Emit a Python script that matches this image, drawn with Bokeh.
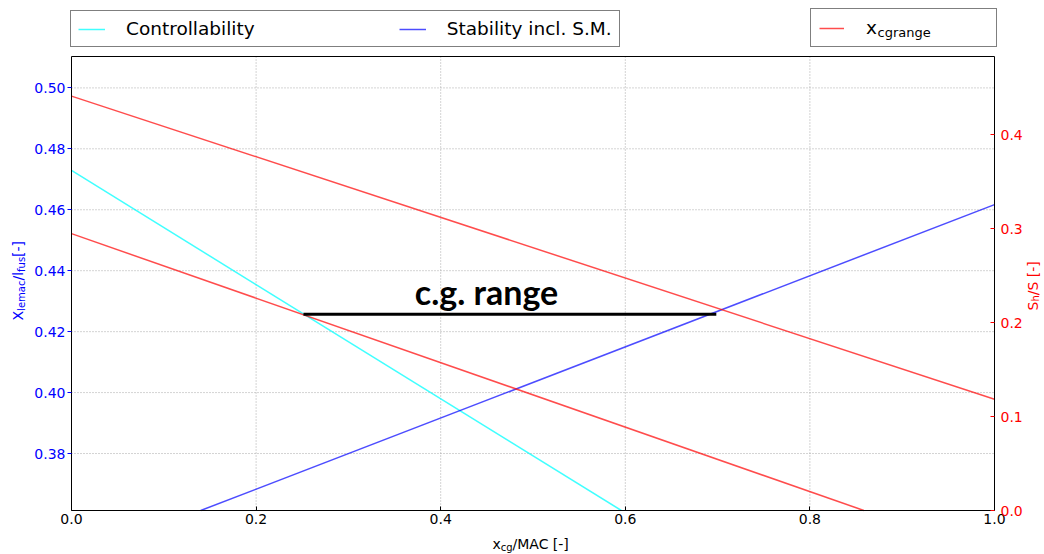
import math
from bokeh.plotting import figure
from bokeh.models import (Range1d, LinearAxis, FixedTicker, PrintfTickFormatter,
                          Legend, LegendItem, Label)
from bokeh.embed import file_html
from bokeh.resources import INLINE

# ---------------- data ----------------
x_ticks = [0.0, 0.2, 0.4, 0.6, 0.8, 1.0]
grid_x = [0.2, 0.4, 0.6, 0.8]
left_ticks = [0.38, 0.40, 0.42, 0.44, 0.46, 0.48, 0.50]
right_ticks = [0.0, 0.1, 0.2, 0.3, 0.4]

# x_cg/MAC  vs  X_lemac/l_fus
controllability_x = [0.0, 0.5957]
controllability_y = [0.4729, 0.3613]
stability_x = [0.140, 1.0]
stability_y = [0.3613, 0.4617]
# x_cg/MAC  vs  S_h/S
xcg_front_x = [0.0, 0.8585]
xcg_front_y = [0.2947, 0.0]
xcg_aft_x = [0.0, 1.0]
xcg_aft_y = [0.4411, 0.1184]
# c.g. range bar
cg_range_x = [0.2513, 0.6986]
cg_range_y = [0.4257, 0.4257]

# axis limits of the plot box
X0, X1 = 0.0, 1.0
Y0, Y1 = 0.3613, 0.5103
R0, R1 = 0.0, 0.4833

# page layout of the plot box (pixels)
W, H = 1044, 554
BL, BR, BT, BB = 71, 994, 56, 510

sx = (X1 - X0) / (BR - BL)
sy = (Y1 - Y0) / (BB - BT)
sr = (R1 - R0) / (BB - BT)

xr = Range1d(X0 - BL * sx, X1 + (W - BR) * sx)
yr = Range1d(Y0 - (H - BB) * sy, Y1 + BT * sy)
rr = Range1d(R0 - (H - BB) * sr, R1 + BT * sr)

def dx(px):
    return X0 + (px - BL) * sx

def dy(py):
    return Y1 - (py - BT) * sy

FONT = "DejaVu Sans"

p = figure(width=W, height=H, min_border=0, x_range=xr, y_range=yr,
           x_axis_location=None, y_axis_location=None,
           output_backend="svg", toolbar_location=None)
p.extra_y_ranges = {"right": rr}
p.background_fill_color = "white"
p.border_fill_color = "white"
p.outline_line_color = None
p.xgrid.visible = False
p.ygrid.visible = False

# dotted grid inside the plot box
GRID = dict(line_color="#a0a0a0", line_dash="1 2", line_width=1, line_alpha=0.9)
p.segment(x0=grid_x, y0=[Y0] * len(grid_x), x1=grid_x, y1=[Y1] * len(grid_x), **GRID)
p.segment(x0=[X0] * len(left_ticks), y0=left_ticks, x1=[X1] * len(left_ticks),
          y1=left_ticks, **GRID)

# bottom axis
xa = LinearAxis(ticker=FixedTicker(ticks=x_ticks), formatter=PrintfTickFormatter(format="%.1f"),
                fixed_location=Y0, bounds=(X0, X1))
xa.major_label_text_font = FONT
xa.major_label_text_font_size = "14px"
xa.major_label_text_color = "black"
xa.major_label_standoff = 3
xa.major_tick_in = 4
xa.major_tick_out = 0
xa.minor_tick_line_color = None
xa.axis_line_color = "black"
p.add_layout(xa, "below")

# top border
ta = LinearAxis(ticker=FixedTicker(ticks=[]), fixed_location=Y1, bounds=(X0, X1))
ta.major_label_text_font_size = "0px"
ta.major_tick_line_color = None
ta.minor_tick_line_color = None
ta.axis_line_color = "black"
p.add_layout(ta, "above")

# left axis
ya = LinearAxis(ticker=FixedTicker(ticks=left_ticks), formatter=PrintfTickFormatter(format="%.2f"),
                fixed_location=X0, bounds=(Y0, Y1))
ya.major_label_text_font = FONT
ya.major_label_text_font_size = "14px"
ya.major_label_text_color = "blue"
ya.major_label_standoff = 2
ya.major_tick_in = 0
ya.major_tick_out = 4
ya.major_tick_line_color = "blue"
ya.minor_tick_line_color = None
ya.axis_line_color = "black"
p.add_layout(ya, "left")

# right axis
ra = LinearAxis(y_range_name="right", ticker=FixedTicker(ticks=right_ticks),
                formatter=PrintfTickFormatter(format="%.1f"),
                fixed_location=X1, bounds=(R0, R1))
ra.major_label_text_font = FONT
ra.major_label_text_font_size = "14px"
ra.major_label_text_color = "red"
ra.major_label_standoff = 6
ra.major_tick_in = 4
ra.major_tick_out = 0
ra.major_tick_line_color = "red"
ra.minor_tick_line_color = None
ra.axis_line_color = "black"
p.add_layout(ra, "right")

# lines
r_c = p.line(controllability_x, controllability_y, line_color="cyan", line_alpha=0.75, line_width=1.5)
r_s = p.line(stability_x, stability_y, line_color="blue", line_alpha=0.7, line_width=1.5)
r_f = p.line(xcg_front_x, xcg_front_y, line_color="red", line_alpha=0.7, line_width=1.5,
             y_range_name="right")
r_a = p.line(xcg_aft_x, xcg_aft_y, line_color="red", line_alpha=0.7, line_width=1.5,
             y_range_name="right")
p.line(cg_range_x, cg_range_y, line_color="black", line_width=3)

p.add_layout(Label(x=dx(486), y=dy(291), text="c.g. range",
                   text_font="Lato", text_font_style="bold", text_font_size="34px",
                   text_color="black", text_align="center", text_baseline="alphabetic"))

# legends
leg1 = Legend(items=[LegendItem(label="Controllability", renderers=[r_c]),
                     LegendItem(label="Stability incl. S.M.", renderers=[r_s])],
              orientation="horizontal", location=(70, H - 47),
              glyph_width=27, glyph_height=18, label_standoff=21, spacing=144,
              padding=7, margin=0, label_text_font=FONT, label_text_font_size="18.5px",
              label_text_color="black",
              border_line_color="black", border_line_width=1, background_fill_alpha=1.0)
leg2 = Legend(items=[LegendItem(label="x", renderers=[r_a])],
              orientation="horizontal", location=(810, H - 47),
              glyph_width=25, glyph_height=18, label_standoff=22, label_width=122,
              padding=8, margin=0, label_text_font=FONT, label_text_font_size="18.5px",
              label_text_color="black",
              border_line_color="black", border_line_width=1, background_fill_alpha=0.0)
p.add_layout(leg1)
p.add_layout(leg2)

def lab(text, px, py, size, color="black", angle=0.0):
    p.add_layout(Label(x=dx(px), y=dy(py), text=text, angle=angle,
                       text_font=FONT, text_font_size=size, text_color=color,
                       text_align="left", text_baseline="alphabetic"))

# legend subscript
lab("cgrange", 877, 32, "13px")

# left axis title (rotated)
A = math.pi / 2
lab("X", 17.5, 320, "14px", "blue", A)
lab("lemac", 20.5, 310.4, "10px", "blue", A)
lab("/l", 17.5, 280, "14px", "blue", A)
lab("fus", 20.5, 271.4, "10px", "blue", A)
lab(" [-]", 17.5, 256.4, "14px", "blue", A)

# right axis title (rotated)
lab("S", 1032, 310, "14px", "red", A)
lab("h", 1035, 301, "10px", "red", A)
lab("/S [-]", 1032, 294.7, "14px", "red", A)

# bottom axis title
lab("x", 492, 543.5, "14px")
lab("cg", 500.3, 546.5, "10px")
lab("/MAC [-]", 512, 543.5, "14px")

open("out.html", "w").write(file_html(p, INLINE))
